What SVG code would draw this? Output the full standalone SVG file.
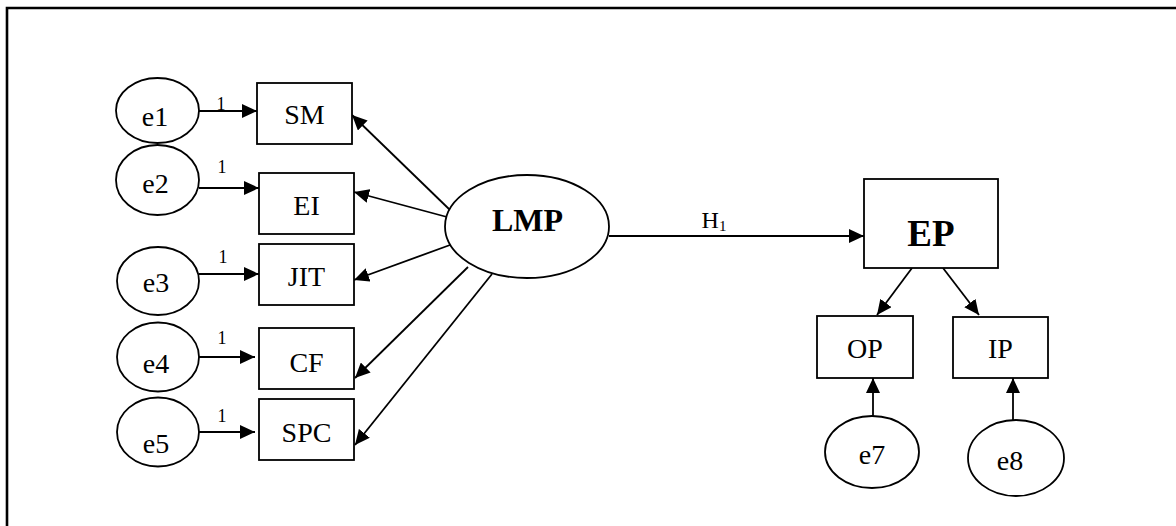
<svg xmlns="http://www.w3.org/2000/svg" width="1176" height="526" viewBox="0 0 1176 526">
  <style>
    .shape { fill: #fff; stroke: #000; stroke-width: 1.8; }
    .link { fill: none; stroke: #000; stroke-width: 1.8; marker-end: url(#arrow); }
    .frame { fill: none; stroke: #000; stroke-width: 2.6; }
    text { font-family: "Liberation Serif", "Times New Roman", serif; fill: #000; text-anchor: middle; }
    .lbl { font-size: 28px; }
    .err { font-size: 28px; }
    .one { font-size: 18px; }
    .big { font-weight: bold; }
  </style>
  <defs>
    <marker id="arrow" viewBox="0 0 15 14" refX="15" refY="7" markerWidth="15" markerHeight="14" markerUnits="userSpaceOnUse" orient="auto">
      <path d="M0,0 L15,7 L0,14 z" fill="#000"/>
    </marker>
  </defs>

  <rect width="1176" height="526" fill="#fff"/>
  <path class="frame" d="M7,526 V8 H1176"/>

  <!-- connectors -->
  <g id="connectors">
    <line class="link" x1="199" y1="111" x2="257" y2="111"/>
    <line class="link" x1="199" y1="188" x2="259" y2="188"/>
    <line class="link" x1="199" y1="274" x2="259" y2="274"/>
    <line class="link" x1="194" y1="357" x2="255" y2="357"/>
    <line class="link" x1="194" y1="432" x2="255" y2="432"/>
    <line class="link" x1="450" y1="210" x2="352" y2="115"/>
    <line class="link" x1="447" y1="217" x2="354" y2="192"/>
    <line class="link" x1="450" y1="245" x2="354" y2="280"/>
    <line class="link" x1="468" y1="267" x2="355" y2="378"/>
    <line class="link" x1="492" y1="274" x2="355" y2="445"/>
    <line class="link" x1="609" y1="236" x2="864" y2="236"/>
    <line class="link" x1="912" y1="268" x2="877" y2="315"/>
    <line class="link" x1="943" y1="268" x2="979" y2="315"/>
    <line class="link" x1="873" y1="416" x2="873" y2="378"/>
    <line class="link" x1="1013" y1="420" x2="1013" y2="378"/>
    <text class="one" x="221" y="110">1</text>
    <text class="one" x="222" y="173">1</text>
    <text class="one" x="223" y="263">1</text>
    <text class="one" x="222" y="344">1</text>
    <text class="one" x="222" y="422">1</text>
    <text x="714" y="228" font-size="24">H<tspan font-size="15" dy="3">1</tspan></text>
  </g>

  <!-- error terms -->
  <g id="e1"><ellipse class="shape" cx="157.5" cy="110.5" rx="41.5" ry="32.5"/><text class="err" x="155" y="126">e1</text></g>
  <g id="e2"><ellipse class="shape" cx="157.5" cy="180" rx="41.5" ry="35"/><text class="err" x="155.5" y="193">e2</text></g>
  <g id="e3"><ellipse class="shape" cx="158" cy="281" rx="41" ry="34"/><text class="err" x="156" y="292">e3</text></g>
  <g id="e4"><ellipse class="shape" cx="158" cy="357" rx="41" ry="34.5"/><text class="err" x="156" y="373">e4</text></g>
  <g id="e5"><ellipse class="shape" cx="158" cy="432" rx="41" ry="34.5"/><text class="err" x="156" y="453">e5</text></g>
  <g id="e7"><ellipse class="shape" cx="872" cy="452" rx="47" ry="36"/><text class="err" x="872" y="464">e7</text></g>
  <g id="e8"><ellipse class="shape" cx="1016" cy="458" rx="48" ry="38"/><text class="err" x="1010" y="470">e8</text></g>

  <!-- observed indicators -->
  <g id="SM"><rect class="shape" x="257" y="83" width="95" height="61"/><text class="lbl" x="304.5" y="124">SM</text></g>
  <g id="EI"><rect class="shape" x="259" y="173" width="95" height="61"/><text class="lbl" x="306.5" y="215">EI</text></g>
  <g id="JIT"><rect class="shape" x="259" y="244" width="95" height="61"/><text class="lbl" x="306.5" y="286">JIT</text></g>
  <g id="CF"><rect class="shape" x="259" y="328" width="95" height="61"/><text class="lbl" x="306.5" y="372">CF</text></g>
  <g id="SPC"><rect class="shape" x="259" y="399" width="95" height="61"/><text class="lbl" x="306.5" y="442">SPC</text></g>
  <g id="OP"><rect class="shape" x="817" y="316" width="96" height="62"/><text class="lbl" x="865" y="358">OP</text></g>
  <g id="IP"><rect class="shape" x="953" y="317" width="95" height="61"/><text class="lbl" x="1000.5" y="358">IP</text></g>

  <!-- constructs -->
  <g id="LMP"><ellipse class="shape" cx="527" cy="226.5" rx="82" ry="51.5"/><text class="big" x="527.5" y="231" font-size="32">LMP</text></g>
  <g id="EP"><rect class="shape" x="864" y="179" width="134" height="89"/><text class="big" x="931" y="246" font-size="37">EP</text></g>
</svg>
